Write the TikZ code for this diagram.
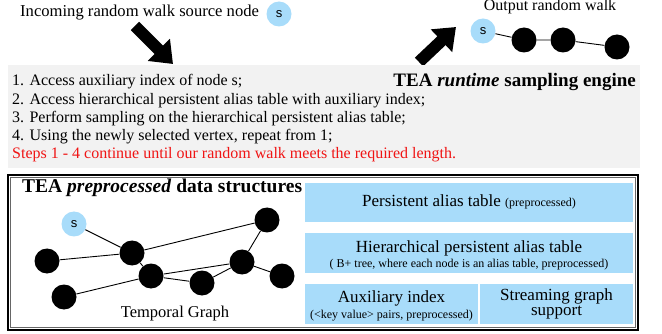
\documentclass[tikz,border=0pt]{standalone}
\usepackage{fontspec}
\setmainfont{Liberation Serif}
\newfontfamily\sansf{Liberation Sans}
\usetikzlibrary{arrows.meta}
\definecolor{lightblue}{RGB}{168,220,250}
\definecolor{panelgray}{RGB}{242,242,242}
\definecolor{stepred}{RGB}{240,20,20}
\tikzset{
  px/.style={x=1pt,y=-1pt},
  snode/.style={circle,fill=lightblue,minimum size=25pt,inner sep=0pt,font=\sansf\fontsize{13}{13}\selectfont},
  vnode/.style={circle,fill=black,minimum size=25pt,inner sep=0pt},
  edge/.style={line width=0.9pt},
  bigarrow/.style={line width=12pt,-{Triangle[length=20pt,width=30pt]}},
  txt/.style={inner sep=0pt,font=\fontsize{16}{16}\selectfont},
  boxtxt/.style={inner sep=0pt,anchor=base,font=\fontsize{17}{17}\selectfont},
  steptxt/.style={inner sep=0pt,anchor=base west,font=\fontsize{16}{16}\selectfont},
  titletxt/.style={inner sep=0pt,font=\bfseries\fontsize{19}{19}\selectfont},
  small/.style={inner sep=0pt,anchor=base,font=\fontsize{12}{12}\selectfont}
}
\begin{document}
\begin{tikzpicture}[px]
\useasboundingbox (0,0) rectangle (662,334);

% ---- incoming source node ----
\node[txt,anchor=base west,font=\fontsize{16.6}{16.6}\selectfont] (intxt) at (20,17) {Incoming random walk source node};
\node[snode] (s0) at (279,14) {s};
\coordinate (a1s) at (135,26);
\coordinate (a1e) at (173,64);
\draw[bigarrow] (a1s) -- (a1e);

% ---- output random walk ----
\node[txt,anchor=base,font=\fontsize{16}{16}\selectfont] (outtxt) at (550,11) {Output random walk};
\node[snode] (w0) at (483,31) {s};
\node[vnode] (w1) at (524,40) {};
\node[vnode] (w2) at (563,40) {};
\node[vnode] (w3) at (617,47) {};
\draw[edge] (w0) -- (w1) -- (w2) -- (w3);
\coordinate (a2s) at (419,62);
\coordinate (a2e) at (456,27);
\draw[bigarrow] (a2s) -- (a2e);

% ---- runtime sampling engine panel ----
\fill[panelgray] (8,65) rectangle (640,168);
\node[titletxt,anchor=base east] (rt) at (636,87) {TEA \textit{runtime} sampling engine};
\node[steptxt] (st1) at (12,86) {1. Access auxiliary index of node s;};
\node[steptxt] (st2) at (12,104.5) {2. Access hierarchical persistent alias table with auxiliary index;};
\node[steptxt] (st3) at (12,122.5) {3. Perform sampling on the hierarchical persistent alias table;};
\node[steptxt] (st4) at (12,140.5) {4. Using the newly selected vertex, repeat from 1;};
\node[steptxt,text=stepred] (st5) at (12,159) {Steps 1 - 4 continue until our random walk meets the required length.};

% ---- preprocessed data structures panel ----
\draw[line width=1.4pt] (8,175) rectangle (638,330);
\draw[line width=0.5pt,black!60] (10.5,177.5) rectangle (635.5,327.5);
\node[titletxt,anchor=base west,font=\bfseries\fontsize{19.5}{19.5}\selectfont] (pt) at (22,193) {TEA \textit{preprocessed} data structures};

% temporal graph
\node[snode] (gs) at (74,224) {s};
\node[vnode] (ga) at (132,253) {};
\node[vnode] (gb) at (47,261) {};
\node[vnode] (gc) at (267,220) {};
\node[vnode] (gd) at (151,276) {};
\node[vnode] (ge) at (64,297) {};
\node[vnode] (gf) at (202,283) {};
\node[vnode] (gg) at (242,262) {};
\node[vnode] (gh) at (282,276) {};
\draw[edge] (gs) -- (ga);
\draw[edge] (gb) -- (ga);
\draw[edge] (ga) -- (gc);
\draw[edge] (ga) -- (gd);
\draw[edge] (ge) -- (gd);
\draw[edge] (gd) -- (gg);
\draw[edge] (gd) -- (gf);
\draw[edge] (gf) -- (gg);
\draw[edge] (gg) -- (gc);
\draw[edge] (gg) -- (gh);
\node[txt,anchor=base,font=\fontsize{16.5}{16.5}\selectfont] (tg) at (175,317) {Temporal Graph};

% data structure boxes
\fill[lightblue] (305,183) rectangle (633,222);
\node[boxtxt] (pat) at (469,207) {Persistent alias table {\fontsize{12}{12}\selectfont (preprocessed)}};
\fill[lightblue] (305,233) rectangle (633,273);
\node[boxtxt] (hpat) at (469,252) {Hierarchical persistent alias table};
\node[small] (hpatsub) at (469,267) {( B+ tree, where each node is an alias table, preprocessed)};
\fill[lightblue] (305,284) rectangle (478,324);
\node[boxtxt] (aux) at (391.5,302) {Auxiliary index};
\node[small] (auxsub) at (391.5,318) {(<key value> pairs, preprocessed)};
\fill[lightblue] (480,284) rectangle (633,324);
\node[inner sep=0pt,align=center,font=\fontsize{17}{15.5}\selectfont] (sg) at (556.5,304) {Streaming graph\\support};
\end{tikzpicture}
\end{document}
